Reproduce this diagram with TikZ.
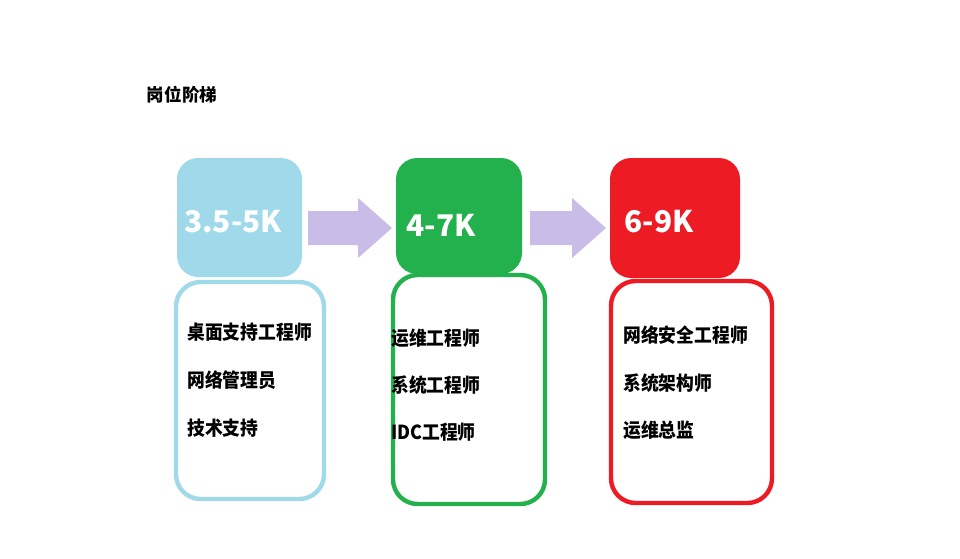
\documentclass[tikz,border=0pt]{standalone}
\usepackage{fontspec}
\newfontfamily\cjk{Noto Sans CJK SC}
\definecolor{skyb}{HTML}{9FD9EA}
\definecolor{grn}{HTML}{22B14C}
\definecolor{rd}{HTML}{ED1C24}
\definecolor{lav}{HTML}{C9BCE6}
\tikzset{
  body/.style={draw, line width=2.5pt, rounded corners=14pt, fill=white, inner sep=0pt},
  pay/.style={text=white, font=\cjk\bfseries\fontsize{17}{20}\selectfont},
  job/.style={font=\cjk\bfseries\fontsize{11}{14}\selectfont, anchor=west, inner sep=0pt, xscale=0.92},
  move/.style={fill=lav}
}
\newcommand{\movearrow}[2]{% left x, right x
  \fill[move] (#1,211) -- ({#2-34},211) -- ({#2-34},198) -- (#2,228) -- ({#2-34},258) -- ({#2-34},245) -- (#1,245) -- cycle;}
\begin{document}
\begin{tikzpicture}[x=0.02cm,y=-0.02cm]
\useasboundingbox (0,0) rectangle (960,558);
\node[font=\cjk\bfseries\fontsize{10}{12}\selectfont] (title) at (182,95) {岗位阶梯};
% level 1
\draw[body, draw=skyb] (176,282) rectangle (324,499);
\fill[skyb, rounded corners=12pt] (177,158) rectangle (302,277);
\node[pay] (p1) at (233,222) {3.5-5K};
\node[job] (a1) at (187,332) {桌面支持工程师};
\node[job] (a2) at (187,380) {网络管理员};
\node[job] (a3) at (187,428) {技术支持};
\movearrow{308}{392}
% level 2
\draw[body, draw=grn] (393,275) rectangle (545,504);
\fill[grn, rounded corners=12pt] (396,158) rectangle (522,274);
\node[pay] (p2) at (441,225) {4-7K};
\node[job] (b1) at (391,338) {运维工程师};
\node[job] (b2) at (391,385) {系统工程师};
\node[job] (b3) at (391,432) {IDC工程师};
\movearrow{530}{606}
% level 3
\draw[body, draw=rd] (611,281) rectangle (772,503);
\fill[rd, rounded corners=12pt] (610,158) rectangle (740,278);
\node[pay] (p3) at (659,222) {6-9K};
\node[job] (c1) at (623,335) {网络安全工程师};
\node[job] (c2) at (623,383) {系统架构师};
\node[job] (c3) at (623,430) {运维总监};
\end{tikzpicture}
\end{document}
